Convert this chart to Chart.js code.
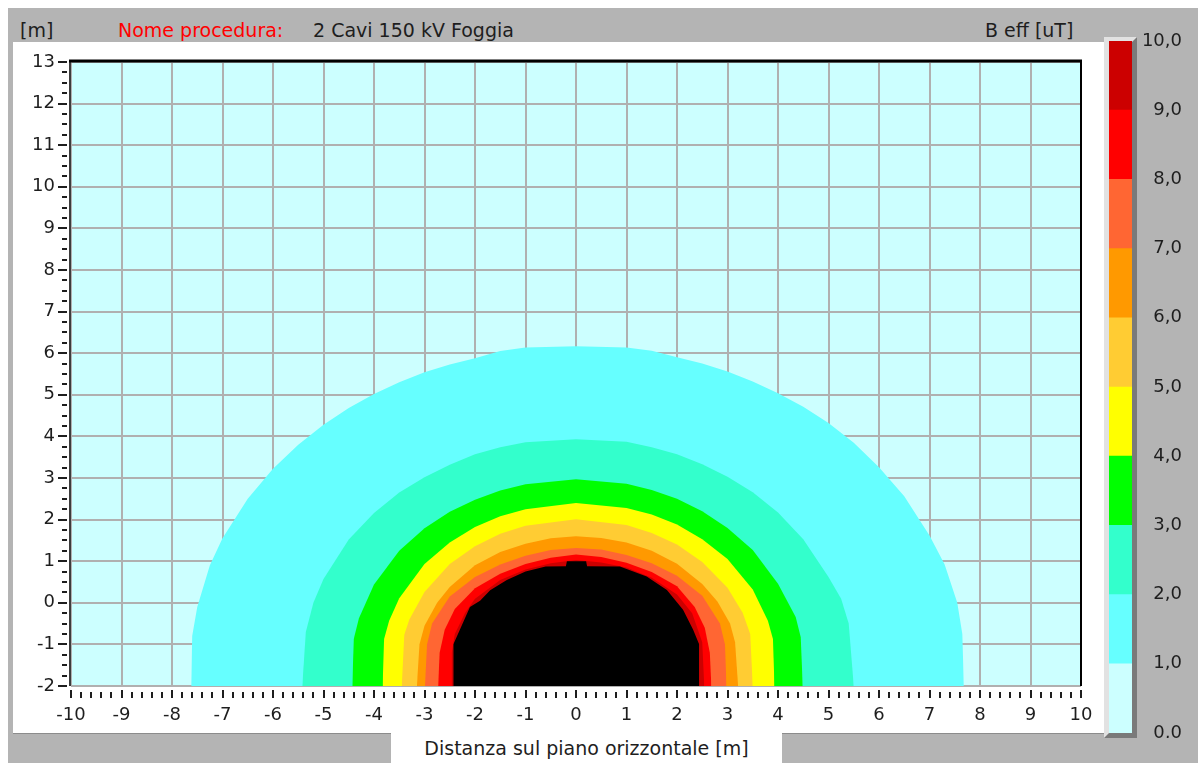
<!DOCTYPE html>
<html lang="it">
<head>
<meta charset="UTF-8">
<title>Campo magnetico - 2 Cavi 150 kV Foggia</title>
<script src="https://cdn.jsdelivr.net/npm/chart.js"></script>
<style>
    html, body { margin: 0; padding: 0; }
    body { width: 1198px; height: 763px; position: relative; overflow: hidden; background: #fff; font-family: "DejaVu Sans", sans-serif; }
    .finestra { position: absolute; left: 8px; top: 8px; width: 1190px; height: 755px; background: #b4b4b4; }
    .testo { position: absolute; top: 19px; font-size: 19px; line-height: 22px; color: #1e1e1e; white-space: nowrap; }
    .pannello { position: absolute; left: 13px; top: 42px; width: 1091px; height: 691px; background: #fff; border-bottom: 1px solid #8c8c8c; }
    .linguetta { position: absolute; left: 391px; top: 733px; width: 391px; height: 30px; background: #fff; text-align: center; font-size: 19px; line-height: 30px; color: #1e1e1e; }
    #grafico { position: absolute; left: 13px; top: 42px; }
    .cornice { position: absolute; left: 1104px; top: 37px; width: 23px; height: 691px; border-style: solid; border-width: 5px; border-color: #e2e2e2 #7a7a7a #7a7a7a #e2e2e2; }
    #scala { position: absolute; left: 1109px; top: 30px; }
</style>
<script>
    // soglie del campo B eff [uT] e colori delle fasce (0-1, 1-2, ... 9-10)
    var soglie = [0, 1, 2, 3, 4, 5, 6, 7, 8, 9, 10];
    var coloriFasce = ["#ccffff", "#66ffff", "#33ffcc", "#00ff00", "#ffff00", "#ffcc33", "#ff9900", "#ff6633", "#ff0000", "#cc0000"];
    var coloreOltre = "#000000"; // oltre 10 uT
    var etichetteScala = ["0,0", "1,0", "2,0", "3,0", "4,0", "5,0", "6,0", "7,0", "8,0", "9,0", "10,0"];

    // contorni delle isolinee: x [m], y [m]
    var livello1X = [-7.62, -7.6, -7.5, -7.25, -7.0, -6.5, -6.0, -5.5, -5.0, -4.5, -4.0, -3.5, -3.0, -2.5, -2.0, -1.5, -1.0, 0.0, 1.0, 1.5, 2.0, 2.5, 3.0, 3.5, 4.0, 4.5, 5.0, 5.5, 6.0, 6.5, 7.0, 7.3, 7.55, 7.65, 7.68];
    var livello1Y = [-2.0, -0.8, -0.1, 0.9, 1.55, 2.5, 3.22, 3.8, 4.28, 4.68, 5.02, 5.3, 5.54, 5.73, 5.88, 6.05, 6.14, 6.17, 6.14, 6.06, 5.9, 5.75, 5.56, 5.32, 5.04, 4.71, 4.32, 3.85, 3.26, 2.56, 1.62, 0.92, 0.0, -0.75, -2.0];

    var livello2X = [-5.42, -5.35, -5.2, -5.0, -4.5, -4.0, -3.5, -3.0, -2.5, -2.0, -1.5, -1.0, 0.0, 1.0, 1.5, 2.0, 2.5, 3.0, 3.5, 4.0, 4.5, 5.0, 5.25, 5.4, 5.5];
    var livello2Y = [-2.0, -0.7, 0.0, 0.57, 1.52, 2.16, 2.65, 3.02, 3.32, 3.57, 3.74, 3.86, 3.93, 3.87, 3.74, 3.57, 3.33, 3.03, 2.66, 2.17, 1.53, 0.62, 0.1, -0.5, -2.0];

    var livello3X = [-4.43, -4.4, -4.3, -4.0, -3.5, -3.0, -2.5, -2.0, -1.5, -1.0, 0.0, 1.0, 1.5, 2.0, 2.5, 3.0, 3.5, 4.0, 4.35, 4.45, 4.49];
    var livello3Y = [-2.0, -0.87, -0.38, 0.44, 1.25, 1.79, 2.19, 2.48, 2.7, 2.85, 2.97, 2.86, 2.71, 2.5, 2.2, 1.8, 1.27, 0.46, -0.34, -0.82, -2.0];

    var livello4X = [-3.83, -3.8, -3.7, -3.5, -3.0, -2.5, -2.0, -1.5, -1.0, 0.0, 1.0, 1.5, 2.0, 2.5, 3.0, 3.5, 3.8, 3.9, 3.93];
    var livello4Y = [-2.0, -0.87, -0.43, 0.11, 0.93, 1.45, 1.82, 2.08, 2.25, 2.4, 2.28, 2.12, 1.88, 1.53, 1.05, 0.32, -0.43, -0.87, -2.0];

    var livello5X = [-3.45, -3.4, -3.3, -3.0, -2.5, -2.0, -1.5, -1.0, 0.0, 1.0, 1.5, 2.0, 2.5, 3.0, 3.3, 3.45, 3.5];
    var livello5Y = [-2.0, -0.77, -0.4, 0.26, 0.93, 1.36, 1.66, 1.85, 2.01, 1.87, 1.68, 1.4, 0.98, 0.36, -0.24, -0.75, -2.0];

    var livello6X = [-3.15, -3.1, -3.0, -2.75, -2.5, -2.0, -1.5, -1.0, -0.5, 0.0, 0.5, 1.0, 1.5, 2.0, 2.5, 2.8, 3.05, 3.15, 3.21];
    var livello6Y = [-2.0, -1.0, -0.55, 0.0, 0.38, 0.9, 1.22, 1.42, 1.55, 1.6, 1.56, 1.45, 1.25, 0.94, 0.45, 0.03, -0.5, -0.95, -2.0];

    var livello7X = [-2.99, -2.95, -2.85, -2.5, -2.0, -1.5, -1.0, -0.5, 0.0, 0.5, 1.0, 1.5, 2.0, 2.5, 2.85, 2.95, 2.98];
    var livello7Y = [-2.0, -1.0, -0.5, 0.15, 0.62, 0.92, 1.13, 1.27, 1.32, 1.28, 1.15, 0.95, 0.65, 0.17, -0.5, -1.0, -2.0];

    var livello8X = [-2.73, -2.7, -2.6, -2.4, -2.0, -1.5, -1.0, -0.5, 0.0, 0.5, 1.0, 1.5, 2.0, 2.35, 2.55, 2.65, 2.68];
    var livello8Y = [-2.0, -1.2, -0.65, -0.15, 0.35, 0.7, 0.93, 1.08, 1.16, 1.1, 0.96, 0.74, 0.4, -0.1, -0.6, -1.2, -2.0];

    var livello9X = [-2.47, -2.46, -2.4, -2.2, -2.0, -1.5, -1.0, -0.5, 0.0, 0.5, 1.0, 1.5, 2.0, 2.3, 2.5, 2.54];
    var livello9Y = [-2.0, -1.2, -0.75, -0.25, 0.1, 0.55, 0.8, 0.95, 1.03, 0.97, 0.85, 0.6, 0.2, -0.25, -0.95, -2.0];

    var livello10X = [-2.43, -2.43, -2.3, -2.1, -1.9, -1.7, -1.37, -1.0, -0.6, -0.2, -0.18, 0.2, 0.22, 0.87, 1.4, 1.8, 2.12, 2.32, 2.44, 2.44];
    var livello10Y = [-2.0, -1.0, -0.65, -0.1, 0.05, 0.3, 0.55, 0.75, 0.87, 0.88, 1.0, 1.0, 0.88, 0.87, 0.63, 0.31, -0.17, -0.65, -1.0, -2.0];

    var contorni = [
        [livello1X, livello1Y], [livello2X, livello2Y], [livello3X, livello3Y], [livello4X, livello4Y], [livello5X, livello5Y],
        [livello6X, livello6Y], [livello7X, livello7Y], [livello8X, livello8Y], [livello9X, livello9Y], [livello10X, livello10Y]
    ];

    var coloreTesto = "#1e1e1e";
    var coloreGriglia = "#b0b0b0";

    window.addEventListener("load", function () {
        Chart.defaults.font.family = "DejaVu Sans";

        // fondo azzurro chiaro (fascia 0-1 uT)
        var sfondo = {
            id: "sfondo",
            beforeDraw: function (chart) {
                var a = chart.chartArea;
                chart.ctx.save();
                chart.ctx.fillStyle = coloriFasce[0];
                chart.ctx.fillRect(a.left, a.top, a.right - a.left, a.bottom - a.top);
                chart.ctx.restore();
            }
        };

        // tacche degli assi e cornice dell'area
        var tacche = {
            id: "tacche",
            afterDraw: function (chart) {
                var ctx = chart.ctx, a = chart.chartArea;
                var sx = chart.scales.x, sy = chart.scales.y;
                ctx.save();
                ctx.strokeStyle = coloreTesto;
                ctx.lineWidth = 2;
                for (var i = -50; i <= 50; i++) {
                    var px = Math.round(sx.getPixelForValue(i / 5));
                    var lunga = (i % 5 === 0);
                    ctx.beginPath();
                    ctx.moveTo(px, a.bottom + (lunga ? 4 : 6));
                    ctx.lineTo(px, a.bottom + 12);
                    ctx.stroke();
                }
                for (var j = -8; j <= 52; j++) {
                    var py = Math.round(sy.getPixelForValue(j / 4));
                    var lungaY = (j % 4 === 0);
                    ctx.beginPath();
                    ctx.moveTo(a.left - (lungaY ? 13 : 9), py);
                    ctx.lineTo(a.left - 4, py);
                    ctx.stroke();
                }
                // bordi
                ctx.strokeStyle = "#3c3c3c";
                ctx.beginPath(); ctx.moveTo(a.left - 1, a.top); ctx.lineTo(a.left - 1, a.bottom); ctx.stroke();
                ctx.strokeStyle = "#000";
                ctx.lineWidth = 3;
                ctx.beginPath(); ctx.moveTo(a.left - 2, a.top - 1); ctx.lineTo(a.right + 1, a.top - 1); ctx.stroke();
                ctx.lineWidth = 2;
                ctx.beginPath(); ctx.moveTo(a.right, a.top); ctx.lineTo(a.right, a.bottom); ctx.stroke();
                ctx.restore();
            }
        };

        // un dataset per ogni isolinea, riempito verso il basso
        var dataList = [];
        for (var k = 0; k < contorni.length; k++) {
            var punti = [];
            for (var p = 0; p < contorni[k][0].length; p++) {
                punti.push({ x: contorni[k][0][p], y: contorni[k][1][p] });
            }
            dataList.push({
                label: (k < 9 ? etichetteScala[k + 1] : "> " + etichetteScala[10]) + " uT",
                data: punti,
                backgroundColor: k < 9 ? coloriFasce[k + 1] : coloreOltre,
                borderWidth: 0,
                pointRadius: 0,
                tension: 0,
                fill: "start",
                order: contorni.length - k
            });
        }

        var fontTick = { family: "DejaVu Sans", size: 18 };

        new Chart(document.getElementById("grafico"), {
            type: "line",
            data: { datasets: dataList },
            options: {
                responsive: false,
                animation: false,
                layout: { padding: { top: 20, right: 22, left: 0, bottom: 0 } },
                plugins: { legend: { display: false }, tooltip: { enabled: false } },
                scales: {
                    x: {
                        type: "linear", min: -10, max: 10, z: 1,
                        ticks: { stepSize: 1, autoSkip: false, maxRotation: 0, padding: 19, color: coloreTesto, font: fontTick },
                        grid: { color: coloreGriglia, lineWidth: 2, drawTicks: false },
                        border: { display: false },
                        afterFit: function (s) { s.height = 47; s.paddingLeft = 0; s.paddingRight = 0; }
                    },
                    y: {
                        type: "linear", min: -2, max: 13, z: 1,
                        ticks: { stepSize: 1, autoSkip: false, padding: 16, color: coloreTesto, font: fontTick },
                        grid: { color: coloreGriglia, lineWidth: 2, drawTicks: false },
                        border: { display: false },
                        afterFit: function (s) { s.width = 58; s.paddingTop = 0; s.paddingBottom = 0; }
                    }
                }
            },
            plugins: [sfondo, tacche]
        });

        // barra dei colori (legenda B eff)
        var fasce = [];
        for (var f = 0; f < coloriFasce.length; f++) {
            fasce.push({
                data: [soglie[f + 1] - soglie[f]],
                backgroundColor: coloriFasce[f],
                borderWidth: 0,
                barPercentage: 1,
                categoryPercentage: 1
            });
        }

        new Chart(document.getElementById("scala"), {
            type: "bar",
            data: { labels: [""], datasets: fasce },
            options: {
                responsive: false,
                animation: false,
                layout: { padding: { top: 11, bottom: 5, right: 16, left: 0 } },
                plugins: { legend: { display: false }, tooltip: { enabled: false } },
                scales: {
                    x: { stacked: true, display: false },
                    y: {
                        stacked: true, position: "right", min: 0, max: 10,
                        ticks: {
                            stepSize: 1, crossAlign: "far", color: coloreTesto, font: fontTick,
                            callback: function (v, i) { return etichetteScala[i]; }
                        },
                        grid: { display: false },
                        border: { display: false },
                        afterFit: function (s) { s.width = 50; s.paddingTop = 0; s.paddingBottom = 0; }
                    }
                }
            }
        });
    });
</script>
</head>
<body>
    <div class="finestra"></div>
    <div class="testo" style="left:20px;">[m]</div>
    <div class="testo" style="left:118px; color:#ff0000;">Nome procedura:</div>
    <div class="testo" style="left:313px;">2 Cavi 150 kV Foggia</div>
    <div class="testo" style="left:985px;">B eff [uT]</div>
    <div class="pannello"></div>
    <div class="linguetta">Distanza sul piano orizzontale [m]</div>
    <canvas id="grafico" width="1090" height="691"></canvas>
    <div class="cornice"></div>
    <canvas id="scala" width="89" height="708"></canvas>
</body>
</html>
